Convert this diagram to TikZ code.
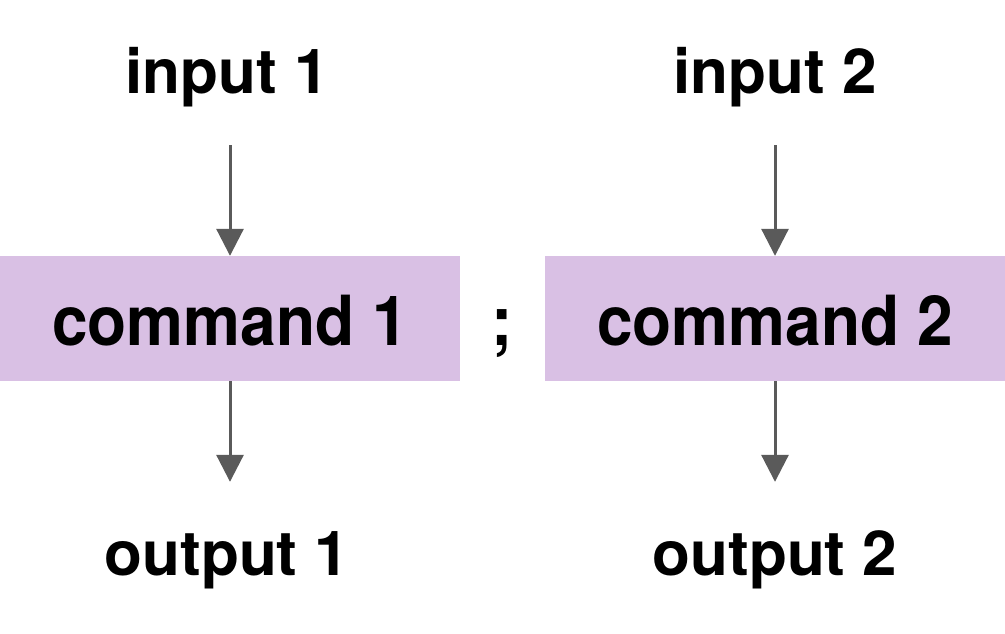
\documentclass[tikz,border=0pt]{standalone}
\usepackage{fontspec}
\usepackage{graphicx}
\setmainfont{TeX Gyre Heros}
\usetikzlibrary{arrows.meta,calc}

\definecolor{cmdfill}{HTML}{D9C0E4}
\definecolor{arrgray}{HTML}{5A5A5A}

\newcommand{\tallbf}[1]{\scalebox{1}[1.08]{\fontsize{64}{64}\selectfont\bfseries #1}}

\begin{document}
\begin{tikzpicture}[x=1pt,y=-1pt,
    lbl/.style={font=\fontsize{62}{62}\selectfont\bfseries, inner sep=0pt, anchor=base,
        text height=45pt, text depth=13pt},
    cmd/.style={inner sep=0pt, fill=cmdfill, minimum width=460pt, minimum height=125pt,
        text height=53pt, text depth=0pt},
    arr/.style={-{Triangle[width=27pt,length=27pt]}, line width=3pt, draw=arrgray}]
    \useasboundingbox (0,0) rectangle (1005,633);

    \node[lbl](in1) at (227,93){input 1};
    \node[cmd](cmd1) at (230,318.5){\tallbf{command 1}};
    \node[lbl](out1) at (227,575){output 1};

    \node[lbl](in2) at (775,93){input 2};
    \node[cmd](cmd2) at (775,318.5){\tallbf{command 2}};
    \node[lbl](out2) at (775,575){output 2};

    \node[inner sep=0pt, anchor=base](semi) at ($(cmd1.base)!0.5!(cmd2.base)$){\tallbf{;}};

    \draw[arr, shorten <=39pt](cmd1.north |- in1.south)--(cmd1.north);
    \draw[arr, shorten >=48pt](cmd1.south)--(cmd1.south |- out1.north);
    \draw[arr, shorten <=39pt](cmd2.north |- in2.south)--(cmd2.north);
    \draw[arr, shorten >=48pt](cmd2.south)--(cmd2.south |- out2.north);
\end{tikzpicture}
\end{document}
